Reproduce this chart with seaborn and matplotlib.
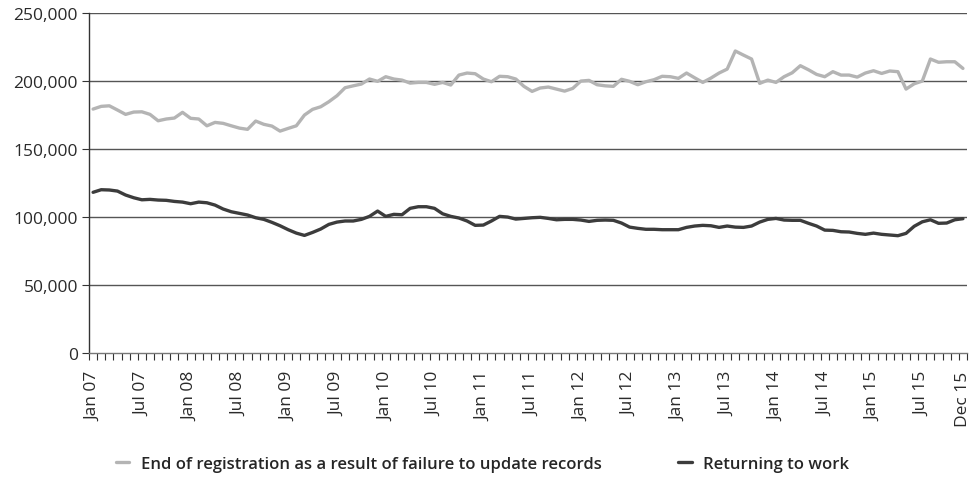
import numpy as np
import pandas as pd
import matplotlib
matplotlib.use("Agg")
import matplotlib.pyplot as plt
import seaborn as sns
from matplotlib.ticker import FuncFormatter, FixedLocator

# monthly series, Jan 2007 - Dec 2015
months = pd.date_range("2007-01-01", "2015-12-01", freq="MS")
month_labels = [m.strftime("%b %y") for m in months]

# End of registration as a result of failure to update records (thousands)
failure_update = [
    179.4, 181.4, 181.8, 178.7, 175.5, 177.2, 177.4, 175.5, 170.8, 172.1,
    172.8, 177.0, 172.6, 172.1, 167.1, 169.6, 168.9, 167.1, 165.4, 164.5,
    170.6, 168.2, 166.9, 163.2, 165.2, 167.1, 175.0, 179.2, 181.1, 184.8,
    189.2, 195.1, 196.5, 197.8, 201.5, 199.8, 203.2, 201.5, 200.7, 198.5,
    199.0, 199.0, 197.6, 199.0, 197.1, 204.4, 205.9, 205.4, 201.5, 199.5,
    203.5, 203.2, 201.5, 196.1, 192.4, 194.9, 195.6, 194.1, 192.6, 194.6,
    200.0, 200.5, 197.3, 196.5, 196.1, 201.3, 199.8, 197.3, 199.5, 201.0,
    203.5, 203.2, 202.0, 205.9, 202.4, 199.0, 202.2, 205.9, 208.8, 222.1,
    219.1, 216.2, 198.3, 200.7, 199.0, 203.2, 206.1, 211.3, 208.3, 204.9,
    203.2, 206.9, 204.4, 204.4, 202.9, 205.9, 207.6, 205.6, 207.4, 206.9,
    194.1, 198.0, 200.0, 216.2, 213.8, 214.2, 214.2, 209.3,
]

# Returning to work (thousands)
returning_work = [
    118.2, 120.1, 119.9, 119.1, 116.2, 114.2, 112.7, 113.0, 112.5, 112.3,
    111.5, 111.0, 109.8, 111.0, 110.5, 108.8, 105.9, 103.9, 102.7, 101.5,
    99.5, 98.3, 96.1, 93.6, 90.7, 88.2, 86.5, 88.7, 91.2, 94.6,
    96.3, 97.1, 97.1, 98.3, 100.5, 104.4, 100.5, 102.0, 101.7, 106.4,
    107.6, 107.6, 106.4, 102.4, 100.5, 99.3, 97.1, 93.9, 94.1, 97.1,
    100.5, 100.0, 98.5, 99.0, 99.5, 99.8, 99.0, 98.0, 98.3, 98.3,
    97.8, 96.8, 97.6, 97.8, 97.6, 95.6, 92.6, 91.7, 91.0, 91.0,
    90.7, 90.7, 90.7, 92.4, 93.4, 93.9, 93.6, 92.4, 93.4, 92.6,
    92.4, 93.4, 96.3, 98.3, 99.0, 97.8, 97.6, 97.6, 95.4, 93.4,
    90.4, 90.2, 89.2, 89.0, 88.0, 87.3, 88.2, 87.3, 86.8, 86.3,
    88.0, 93.2, 96.5, 98.0, 95.4, 95.6, 98.0, 98.8,
]

series_names = ["End of registration as a result of failure to update records",
                "Returning to work"]

df = pd.DataFrame({
    "month": np.tile(np.arange(len(months)), 2),
    "value": np.array(failure_update + returning_work) * 1000,
    "series": np.repeat(series_names, len(months)),
})

sns.set_style("white")
plt.rcParams["font.family"] = ["Open Sans", "DejaVu Sans"]

fig = plt.figure(figsize=(9.75, 4.85), dpi=100)
ax = fig.add_axes([0.0913, 0.270, 0.9005, 0.701])

for y in range(50000, 250001, 50000):
    ax.axhline(y, color="#555555", lw=1.0, zorder=0)

sns.lineplot(data=df, x="month", y="value", hue="series",
             palette=["#b4b4b4", "#3c3c3c"], linewidth=2.4, ax=ax,
             legend=False)

ax.set_xlim(-0.5, len(months) - 0.5)
ax.set_ylim(0, 250000)
ax.set_yticks(range(0, 250001, 50000))
ax.yaxis.set_major_formatter(FuncFormatter(lambda v, p: f"{int(v):,}"))

label_pos = list(range(0, len(months), 6)) + [len(months) - 1]
ax.set_xticks(label_pos)
ax.set_xticklabels([month_labels[i] for i in label_pos], rotation=90)
ax.xaxis.set_minor_locator(FixedLocator(np.arange(-0.5, len(months), 1)))
ax.tick_params(axis="x", which="major", length=0, pad=13, labelsize=12.5,
               colors="#2a2a2a")
ax.tick_params(axis="x", which="minor", length=5, width=0.8, color="#333333",
               direction="out", bottom=True)
ax.tick_params(axis="y", length=5, width=0.8, color="#333333", direction="out",
               left=True, labelsize=12.5, labelcolor="#2a2a2a", pad=3)

ax.set_xlabel("")
ax.set_ylabel("")
for s in ["top", "right"]:
    ax.spines[s].set_visible(False)
ax.spines["left"].set_color("#333333")
ax.spines["bottom"].set_color("#777777")
ax.spines["left"].set_linewidth(1.0)
ax.spines["bottom"].set_linewidth(1.0)

handles = [plt.Line2D([], [], color=c, lw=2.4) for c in ["#b4b4b4", "#3c3c3c"]]
fig.legend(handles, series_names, loc="center", bbox_to_anchor=(0.495, 0.042),
           ncol=2, frameon=False, handlelength=0.8, columnspacing=4.6,
           handletextpad=0.7, prop={"family": ["Open Sans", "DejaVu Sans"],
                                    "weight": "semibold", "size": 12})

fig.savefig("out.png", dpi=100)
